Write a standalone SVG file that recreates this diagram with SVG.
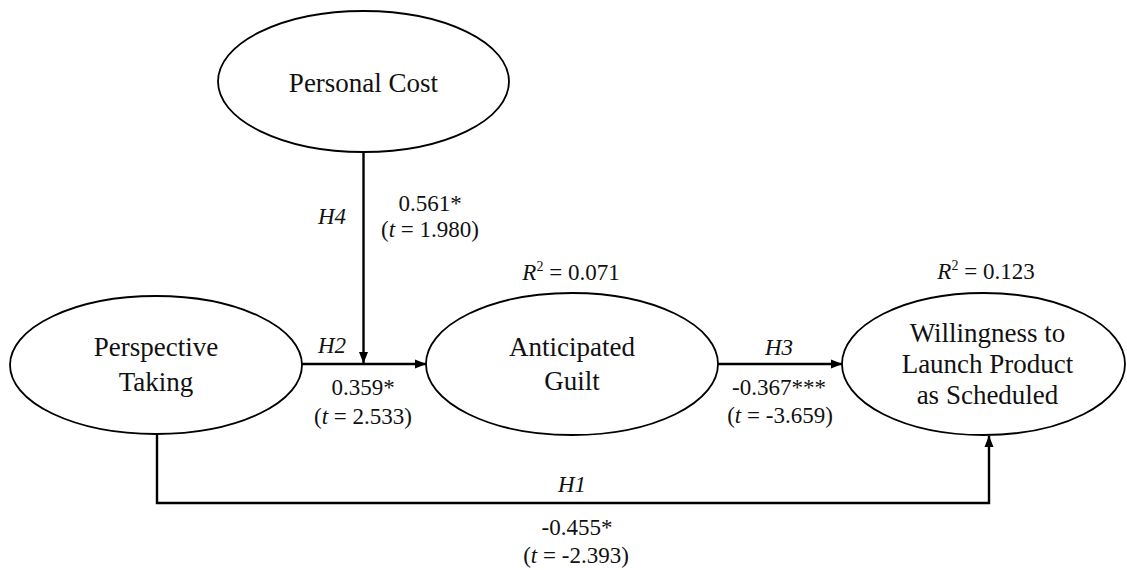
<svg xmlns="http://www.w3.org/2000/svg" width="1127" height="570" viewBox="0 0 1127 570">
  <style>
    .node { fill: #ffffff; stroke: #000000; stroke-width: 1.8; }
    .name { font-size: 27px; fill: #111111; text-anchor: middle; }
    .lbl { font-size: 23px; fill: #111111; text-anchor: middle; }
    .it { font-style: italic; }
    .edge { fill: none; stroke: #000000; stroke-width: 2.4; }
  </style>
  <defs>
    <marker id="arrow" markerUnits="userSpaceOnUse" markerWidth="12" markerHeight="10" refX="11" refY="5" orient="auto">
      <path d="M0,0.5 L11.5,5 L0,9.5 Z" fill="#000000"/>
    </marker>
  </defs>

  <rect width="1127" height="570" fill="#ffffff"/>

  <!-- connectors -->
  <g id="connectors">
    <path class="edge" d="M302,364 H426" marker-end="url(#arrow)"/>
    <path class="edge" d="M363.5,152 V363" marker-end="url(#arrow)"/>
    <path class="edge" d="M718,364 H842" marker-end="url(#arrow)"/>
    <path class="edge" d="M157,434 V503 H989 V436" marker-end="url(#arrow)"/>
  </g>

  <g font-family="Liberation Serif, Tinos, Times New Roman, Nimbus Roman, FreeSerif, serif">
    <!-- path labels -->
    <g id="labels">
      <text class="lbl it" x="332" y="224">H4</text>
      <text class="lbl" x="430" y="211">0.561*</text>
      <text class="lbl" x="430" y="237">(<tspan class="it">t</tspan> = 1.980)</text>

      <text class="lbl it" x="332" y="353">H2</text>
      <text class="lbl" x="363" y="395">0.359*</text>
      <text class="lbl" x="363" y="424">(<tspan class="it">t</tspan> = 2.533)</text>

      <text class="lbl it" x="779" y="355">H3</text>
      <text class="lbl" x="779" y="395">-0.367***</text>
      <text class="lbl" x="780" y="423">(<tspan class="it">t</tspan> = -3.659)</text>

      <text class="lbl it" x="572" y="492">H1</text>
      <text class="lbl" x="577" y="535">-0.455*</text>
      <text class="lbl" x="576" y="563">(<tspan class="it">t</tspan> = -2.393)</text>

      <text class="lbl" x="571" y="280"><tspan class="it">R</tspan><tspan font-size="14" dy="-9">2</tspan><tspan dy="9"> = 0.071</tspan></text>
      <text class="lbl" x="986" y="279"><tspan class="it">R</tspan><tspan font-size="14" dy="-9">2</tspan><tspan dy="9"> = 0.123</tspan></text>
    </g>

    <!-- nodes -->
    <g id="personal-cost">
      <ellipse class="node" cx="363.5" cy="81.5" rx="145.5" ry="70.5"/>
      <text class="name" x="363.5" y="92">Personal Cost</text>
    </g>

    <g id="perspective-taking">
      <ellipse class="node" cx="156" cy="365" rx="146" ry="69"/>
      <text class="name" x="156" y="356">Perspective</text>
      <text class="name" x="156" y="391">Taking</text>
    </g>

    <g id="anticipated-guilt">
      <ellipse class="node" cx="572" cy="364" rx="146" ry="71"/>
      <text class="name" x="572" y="356">Anticipated</text>
      <text class="name" x="572" y="390">Guilt</text>
    </g>

    <g id="willingness">
      <ellipse class="node" cx="983.5" cy="364" rx="141.5" ry="71"/>
      <text class="name" x="987.5" y="342">Willingness to</text>
      <text class="name" x="987.5" y="373">Launch Product</text>
      <text class="name" x="987.5" y="404">as Scheduled</text>
    </g>
  </g>
</svg>
